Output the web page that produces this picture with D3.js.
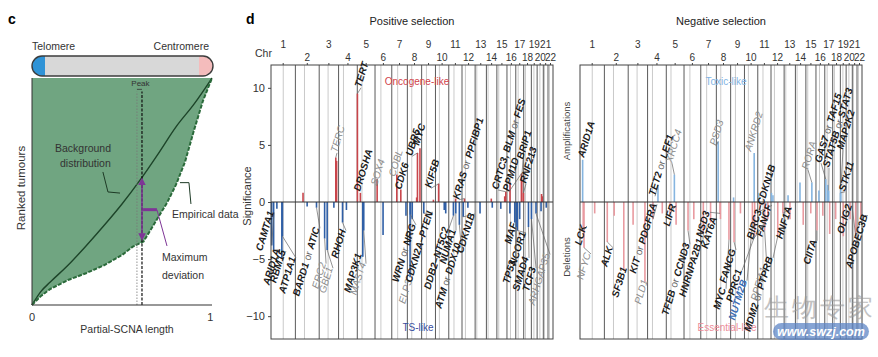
<!DOCTYPE html>
<html><head><meta charset="utf-8">
<script src="https://cdn.jsdelivr.net/npm/d3@7"></script>
<style>
body{margin:0;background:#fff}
svg{display:block}
text{font-family:"Liberation Sans",Arial,Helvetica,sans-serif}
</style>
</head><body>
<svg id="fig" width="878" height="357"></svg>
<script>
// ---------- data ----------
const chrNames = ["1","2","3","4","5","6","7","8","9","10","11","12","13","14","15","16","17","18","19","20","21","22"];
const chrLengths = [249,243,198,191,181,171,159,146,141,136,135,134,115,107,103,90,81,78,59,63,48,51];
const centromeres = [125,93,91,50,48,60,60,45,49,40,53,35,17,17,19,36,24,18,26,28,12,15];
const sigTicks = [-10,-5,0,5,10];

// panel c: ranked tumours vs partial-SCNA length
const bgT  = [0,0.05,0.1,0.2,0.3,0.4,0.5,0.6,0.7,0.8,0.9,1];
const bgR  = [0,0.06,0.1,0.175,0.26,0.35,0.445,0.55,0.665,0.785,0.885,1];
const empT = [0,0.05,0.1,0.2,0.3,0.4,0.5,0.56,0.62,0.7,0.75,0.8,0.85,0.9,0.95,1];
const empR = [0,0.04,0.07,0.11,0.14,0.175,0.22,0.257,0.28,0.385,0.45,0.53,0.63,0.77,0.9,1];
const peakT = [0.583,0.611];

// positive selection: [gene, chr, Mb, significance, labelGenomeMb, labelSig, style]
const oncoLabels = [
 ["TERT",5,1.3,9.5,919,10.0,"b"],
 ["TERC",3,169.5,3.9,674,4.3,"g"],
 ["DROSHA",5,31.5,0.8,909,0.9,"b"],
 ["SOX4",6,21.6,2.0,1082,1.4,"g"],
 ["COBL",7,51.1,2.4,1266,2.2,"g"],
 ["CDK6",7,92.3,1.1,1327,1.05,"b"],
 ["UBR5",8,103.3,4.3,1440,4.0,"b"],
 ["MYC",8,128.7,4.7,1511,4.9,"b"],
 ["KIF5B",10,32.3,1.6,1634,1.2,"b"],
 ["KRAS or PPFIBP1",12,25.4,0.3,1919,0.2,"b"],
 ["CRTC3, BLM or FES",15,91.1,0.9,2318,1.05,"b"],
 ["PPM1D",17,58.7,2.5,2430,0.9,"b"],
 ["BRIP1",17,59.8,2.0,2573,3.7,"b"],
 ["RNF213",17,78.3,0.8,2604,1.6,"b"]
];
const oncoBars = [[2,78,0.8],[3,178,3.6],[8,95,0.4],[16,31,1.7],[15,80,0.5],[20,45,0.7],[20,52,0.5],[11,70,0.3],[14,50,0.3],[9,120,0.2]];
const tsLabels = [
 ["CAMTA1",1,7,-3.8,31,-0.9,"b"],
 ["ARID1A",1,27,-4.2,92,-4.2,"b"],
 ["RBM15",1,110.9,-4.9,153,-4.3,"b"],
 ["ATP1A1",1,116.9,-3.0,255,-4.9,"b"],
 ["BARD1 or ATIC",2,215.6,-0.5,500,-2.3,"b"],
 ["ERC2",3,55.5,-3.2,562,-5.4,"g"],
 ["GBE1",3,81.5,-4.2,633,-5.8,"g"],
 ["RHOH",4,40.2,-1.8,766,-2.5,"b"],
 ["MAP3K1",5,56.1,-4.8,929,-4.6,"b"],
 ["MAST4",5,66,-2.5,970,-5.4,"g"],
 ["WRN or NRG",8,30.9,-1.1,1480,-2.0,"b"],
 ["ELP3",8,27.9,-6.6,1440,-6.9,"g"],
 ["CDKN2A–PTEN",9,21.9,-1.0,1654,-0.9,"b"],
 ["DDB2–NT5C2",11,47.2,-1.2,1817,-2.3,"b"],
 ["NUMA1",11,71.7,-1.0,1889,-2.5,"b"],
 ["ATM or DDX10",11,108,-2.0,1940,-3.7,"b"],
 ["CDKN1B",12,12.9,-1.3,2083,-1.05,"b"],
 ["MAF",16,79.6,-1.8,2512,-1.9,"b"],
 ["NCOR1",17,16,-2.5,2604,-2.7,"b"],
 ["TP53",17,7.5,-2.2,2501,-5.2,"b"],
 ["SMAD4",18,48.6,-2.2,2634,-4.9,"b"],
 ["TCF3",19,1.6,-1.5,2706,-5.8,"b"],
 ["ARHGAP35",19,47.4,-1.0,2849,-4.6,"g"]
];
const tsBars = [[1,60,-0.6],[2,120,-0.4],[3,150,-0.5],[4,80,-0.7],[6,82,-2.9],[7,145,-1.2],[8,50,-1.5],[10,89.6,-0.7],[10,104.8,-1.0],[12,60,-0.5],[13,50,-1.0],[14,60,-0.5],[15,40,-0.6],[16,30,-1.0],[17,40,-1.5],[20,40,-0.8],[21,30,-0.5]];

// negative selection
const toxicLabels = [
 ["ARID1A",1,27,3.7,41,3.85,"b"],
 ["TET2 or LEF1",4,106,1.5,766,0.5,"b"],
 ["XRCC4",5,82.4,2.4,939,3.4,"g"],
 ["PSD3",8,18.4,5.3,1389,4.9,"g"],
 ["ANKRD2",10,99.3,4.3,1746,4.4,"g"],
 ["RORA",15,61,1.7,2328,2.8,"g"],
 ["GAS7 or TAF15",17,9.8,2.0,2461,3.4,"b"],
 ["STAT5B or STAT3",17,40.4,1.0,2542,3.0,"b"],
 ["MAP2K2",19,4.1,1.2,2685,4.55,"b"],
 ["STK11",19,1.2,0.8,2706,0.9,"b"]
];
const toxicBars = [[11,10,0.8],[12,5,0.8],[12,20,0.6],[14,47,1.7],[16,30,1.0],[9,30,0.4],[13,40,0.6],[17,30,1.5]];
const essentialLabels = [
 ["LCK",1,32.7,-2.5,71,-2.1,"b"],
 ["NFYC",1,41,-4.0,112,-4.55,"g"],
 ["ALK",2,29.4,-3.5,337,-4.0,"b"],
 ["SF3B1",2,198,-6.0,480,-5.8,"b"],
 ["KIT or PDGFRA",4,55,-1.5,786,-0.2,"b"],
 ["PLD1",3,171,-7.0,694,-6.9,"g"],
 ["LIFR",5,38.5,-1.0,980,-0.3,"b"],
 ["TFEB or CCND3",6,41,-2.5,1123,-3.7,"b"],
 ["HNRNPA2B1",7,26,-2.8,1256,-3.3,"b"],
 ["NSD3",8,38,-1.0,1327,-0.9,"b"],
 ["KAT6A",8,41.8,-1.5,1399,-1.4,"b"],
 ["MYC",8,128.7,-3.3,1491,-7.6,"b"],
 ["FANCG",9,35,-3.5,1593,-4.2,"b"],
 ["PPRC1",10,104,-3.0,1654,-6.0,"b"],
 ["NUTM2B",10,81,-2.0,1705,-6.9,"u"],
 ["FANCF",11,22.6,-0.8,1960,-0.3,"b"],
 ["PPFIA1",11,70,-2.5,1909,-5.8,"g"],
 ["MDM2 or PTPRB",12,69,-3.0,1971,-4.9,"b"],
 ["HNF1A",12,121,-1.0,2164,-0.5,"b"],
 ["CIITA",16,11,-2.5,2420,-3.4,"b"],
 ["OLIG2",21,34.4,-3.0,2777,-0.3,"b"],
 ["APOBEC3B",22,39.4,-1.2,2940,-1.2,"b"],
 ["BIRC3–CDKN1B",11,102,-1.5,1766,-3.3,"b","start"]
];
const essentialBars = [[1,150,-1.0],[2,100,-1.2],[3,50,-2.0],[4,150,-1.0],[5,100,-2.0],[6,100,-1.5],[7,100,-1.8],[9,100,-1.0],[13,60,-1.5],[14,80,-2.0],[15,50,-1.0],[16,70,-1.2],[17,50,-2.8],[18,30,-1.5],[20,40,-1.5],[19,30,-3.0]];

// ---------- drawing ----------
const svg = d3.select("#fig");
const starts = chrLengths.map((d,i)=>d3.sum(chrLengths.slice(0,i)));
const total = d3.sum(chrLengths);
const gpos = (c,p)=>starts[c-1]+p;

// ===== panel c =====
const cx = d3.scaleLinear().domain([0,1]).range([32,212]);
const cy = d3.scaleLinear().domain([0,1]).range([305,78]);
const gc = svg.append("g");
gc.append("text").attr("x",8).attr("y",24).attr("font-size",14).attr("font-weight","bold").text("c");

const empPts = empT.map((t,i)=>[t,empR[i]]);
const areaPts = [[0,1],[1,1]].concat(empPts.slice().reverse());
const ln = d3.line().x(d=>cx(d[0])).y(d=>cy(d[1]));
gc.append("path").attr("d",ln(areaPts)+"Z").attr("fill","#70a581");
gc.append("path").attr("fill","none").attr("stroke","#1d4429").attr("stroke-width",1.4)
  .attr("d", d3.line().curve(d3.curveMonotoneX).x(d=>cx(d[0])).y(d=>cy(d[1]))(bgT.map((t,i)=>[t,bgR[i]])));
gc.append("path").attr("d",ln(empPts)).attr("fill","none").attr("stroke","#2a6a3a").attr("stroke-width",2).attr("stroke-dasharray","4,1.5");

// chromosome cartoon
const barY = 56, barH = 20;
gc.append("defs").html('<clipPath id="chrclip"><rect x="32" y="'+barY+'" width="181" height="'+barH+'" rx="10"/></clipPath>');
const cg = gc.append("g").attr("clip-path","url(#chrclip)");
cg.append("rect").attr("x",32).attr("y",barY).attr("width",181).attr("height",barH).attr("fill","#d8d8d8");
cg.append("rect").attr("x",32).attr("y",barY).attr("width",13).attr("height",barH).attr("fill","#2f93d6");
cg.append("rect").attr("x",199).attr("y",barY).attr("width",14).attr("height",barH).attr("fill","#f4bcbc");
gc.append("rect").attr("x",32).attr("y",barY).attr("width",181).attr("height",barH).attr("rx",10).attr("fill","none").attr("stroke","#3c3c3c").attr("stroke-width",1.4);
gc.append("text").attr("x",32).attr("y",50).attr("font-size",10.5).attr("fill","#333").text("Telomere");
gc.append("text").attr("x",209).attr("y",50).attr("text-anchor","end").attr("font-size",10.5).attr("fill","#333").text("Centromere");

// peak lines
gc.append("line").attr("x1",cx(peakT[0])).attr("x2",cx(peakT[0])).attr("y1",cy(0)).attr("y2",cy(0.94)).attr("stroke","#777").attr("stroke-width",0.8).attr("stroke-dasharray","1.5,1.5");
gc.append("line").attr("x1",cx(peakT[1])).attr("x2",cx(peakT[1])).attr("y1",cy(0)).attr("y2",cy(0.94)).attr("stroke","#111").attr("stroke-width",1.2).attr("stroke-dasharray","3,1.5");
gc.append("line").attr("x1",cx(peakT[0])).attr("x2",cx(peakT[1])).attr("y1",cy(0.95)).attr("y2",cy(0.95)).attr("stroke","#333").attr("stroke-width",0.8);
gc.append("text").attr("x",(cx(peakT[0])+cx(peakT[1]))/2+1).attr("y",86).attr("text-anchor","middle").attr("font-size",8).attr("fill","#333").text("Peak");

// maximum deviation
const purple = "#7e3596";
gc.append("defs").html('<marker id="ah" viewBox="0 0 10 10" refX="5" refY="5" markerWidth="5" markerHeight="5" orient="auto-start-reverse"><path d="M0,0L10,5L0,10z" fill="'+purple+'"/></marker>');
gc.append("line").attr("x1",cx(peakT[1])).attr("x2",cx(peakT[1])).attr("y1",cy(0.545)).attr("y2",cy(0.3)).attr("stroke",purple).attr("stroke-width",1.5).attr("marker-start","url(#ah)").attr("marker-end","url(#ah)");
gc.append("line").attr("x1",cx(0.617)).attr("x2",cx(0.694)).attr("y1",cy(0.42)).attr("y2",cy(0.42)).attr("stroke",purple).attr("stroke-width",3);
gc.append("path").attr("d",ln([[0.694,0.42],[0.75,0.26]])).attr("fill","none").attr("stroke",purple).attr("stroke-width",1);

// annotation leaders
gc.append("path").attr("d",ln([[0.394,0.586],[0.422,0.498],[0.489,0.493]])).attr("fill","none").attr("stroke","#1d3a25").attr("stroke-width",1);
gc.append("path").attr("d",ln([[0.822,0.539],[0.872,0.539],[0.883,0.445]])).attr("fill","none").attr("stroke","#1d3a25").attr("stroke-width",1);

const ann = (x,y,t,a)=>gc.append("text").attr("x",x).attr("y",y).attr("font-size",10.5).attr("fill","#333").attr("text-anchor",a||"start").text(t);
ann(55,152,"Background"); ann(60,167,"distribution");
ann(172,218,"Empirical data");
ann(162,261,"Maximum"); ann(162,279,"deviation");

// axes c
gc.append("line").attr("x1",cx(0)).attr("x2",cx(1)).attr("y1",cy(0)).attr("y2",cy(0)).attr("stroke","#333").attr("stroke-width",1.2);
gc.append("line").attr("x1",cx(0)).attr("x2",cx(0)).attr("y1",cy(0)).attr("y2",cy(1)).attr("stroke","#333").attr("stroke-width",1);
gc.append("text").attr("x",cx(0)).attr("y",321).attr("text-anchor","middle").attr("font-size",11).attr("fill","#333").text("0");
gc.append("text").attr("x",cx(0.99)).attr("y",321).attr("text-anchor","middle").attr("font-size",11).attr("fill","#333").text("1");
gc.append("text").attr("x",127).attr("y",333).attr("text-anchor","middle").attr("font-size",10.5).attr("fill","#333").text("Partial-SCNA length");
gc.append("text").attr("transform","translate(25,188) rotate(-90)").attr("text-anchor","middle").attr("font-size",11.5).attr("fill","#333").text("Ranked tumours");

// ===== panel d =====
const y = d3.scaleLinear().domain([-12,12]).range([339,65]);
svg.append("text").attr("x",246).attr("y",24).attr("font-size",14).attr("font-weight","bold").text("d");
svg.append("text").attr("x",255).attr("y",57).attr("font-size",10.5).attr("fill","#333").text("Chr");

function panel(x0, x1, title, upLabels, upBars, downLabels, downBars, upColor, downColor, upText, upTextColor, downText, downTextColor) {
  const x = d3.scaleLinear().domain([0,total]).range([x0,x1]);
  const g = svg.append("g");
  g.append("rect").attr("x",x0).attr("y",y(12)).attr("width",x1-x0).attr("height",y(-12)-y(12)).attr("fill","#fff");
  g.selectAll("line.cen").data(centromeres).join("line")
    .attr("x1",(d,i)=>x(starts[i]+d)).attr("x2",(d,i)=>x(starts[i]+d))
    .attr("y1",y(12)).attr("y2",y(-12)).attr("stroke","#c4c4c4").attr("stroke-width",0.9);
  g.selectAll("line.bnd").data(starts.slice(1)).join("line")
    .attr("x1",d=>x(d)).attr("x2",d=>x(d)).attr("y1",y(12)).attr("y2",y(-12))
    .attr("stroke","#5a5a5a").attr("stroke-width",1);
  chrNames.forEach((n,i)=>{
    const cxp = x(starts[i]+chrLengths[i]/2);
    g.append("text").attr("x",cxp).attr("y", i%2===0 ? 48 : 61).attr("text-anchor","middle").attr("font-size",10).attr("fill","#333").text(n);
    g.append("line").attr("x1",cxp).attr("x2",cxp).attr("y1",y(12)-2).attr("y2",y(12)).attr("stroke","#444");
  });
  g.append("text").attr("x",(x0+x1)/2).attr("y",25).attr("text-anchor","middle").attr("font-size",11).attr("fill","#222").text(title);
  const allUp = upBars.concat(upLabels.map(r=>[r[1],r[2],r[3]]));
  const allDown = downBars.concat(downLabels.map(r=>[r[1],r[2],r[3]]));
  g.selectAll("line.up").data(allUp).join("line")
    .attr("x1",d=>x(gpos(d[0],d[1]))).attr("x2",d=>x(gpos(d[0],d[1])))
    .attr("y1",y(0)).attr("y2",d=>y(d[2])).attr("stroke",upColor).attr("stroke-width",1.6);
  g.selectAll("line.dn").data(allDown).join("line")
    .attr("x1",d=>x(gpos(d[0],d[1]))).attr("x2",d=>x(gpos(d[0],d[1])))
    .attr("y1",y(0)).attr("y2",d=>y(d[2])).attr("stroke",downColor).attr("stroke-width",1.6);
  g.append("line").attr("x1",x0).attr("x2",x1).attr("y1",y(0)).attr("y2",y(0)).attr("stroke","#333").attr("stroke-width",1.2);
  g.append("rect").attr("x",x0).attr("y",y(12)).attr("width",x1-x0).attr("height",y(-12)-y(12)).attr("fill","none").attr("stroke","#444").attr("stroke-width",1);
  g.append("text").attr("x",(x0+x1)/2+5).attr("y",85).attr("text-anchor","middle").attr("font-size",10).attr("fill",upTextColor).text(upText);
  g.append("text").attr("x",(x0+x1)/2+6).attr("y",331).attr("text-anchor","middle").attr("font-size",10).attr("fill",downTextColor).text(downText);
  drawLabels(g, x, upLabels, "start");
  drawLabels(g, x, downLabels, "end");
  return x;
}

function drawLabels(g, x, rows, anchor) {
  rows.forEach(r=>{
    const [txt,c,p,v,lg,ls,st,anc] = r;
    const bx = x(gpos(c,p)), by = y(v), lx = x(lg), ly = y(ls);
    if (Math.hypot(bx-lx,by-ly) > 4) {
      g.append("line").attr("x1",bx).attr("y1",by).attr("x2",lx).attr("y2",ly).attr("stroke","#666").attr("stroke-width",0.7);
    }
    const fill = st==="g" ? "#8c8c8c" : (st==="u" ? "#3b6db3" : "#1b1b1b");
    const t = g.append("text").attr("transform",`translate(${lx},${ly}) rotate(-73)`)
      .attr("text-anchor", anc || anchor).attr("font-size",10).attr("font-style","italic")
      .attr("font-weight", st==="g" ? "normal" : "bold").attr("fill",fill);
    const parts = txt.split(" or ");
    parts.forEach((pt,i)=>{
      if (i>0) t.append("tspan").attr("font-weight","normal").attr("fill","#666").attr("font-style","normal").text(" or ");
      t.append("tspan").text(pt);
    });
  });
}

panel(271,553,"Positive selection", oncoLabels, oncoBars, tsLabels, tsBars, "#c9454b", "#2f5fa6",
      "Oncogene-like", "#d1434b", "TS-like", "#3a4fa0");
panel(580,862,"Negative selection", toxicLabels, toxicBars, essentialLabels, essentialBars, "#86b5e0", "#e99aa0",
      "Toxic-like", "#82b3e3", "Essential-like", "#ec8d98");

const ax = svg.append("g").attr("transform","translate(271,0)")
  .call(d3.axisLeft(y).tickValues(sigTicks).tickSize(3).tickFormat(d=> d<0 ? "\u2212"+(-d) : d));
ax.select(".domain").remove();
ax.selectAll("text").attr("font-size",11).attr("fill","#333").attr("font-family","Liberation Sans, Arial, sans-serif");
ax.selectAll("line").attr("stroke","#444");
svg.append("text").attr("transform","translate(251,196) rotate(-90)").attr("text-anchor","middle").attr("font-size",11).attr("fill","#333").text("Significance");
svg.append("text").attr("transform","translate(570,131) rotate(-90)").attr("text-anchor","middle").attr("font-size",9.5).attr("fill","#444").text("Amplifications");
svg.append("text").attr("transform","translate(570,257) rotate(-90)").attr("text-anchor","middle").attr("font-size",9.5).attr("fill","#444").text("Deletions");

// watermark
const wm = svg.append("g");
wm.append("text").attr("x",820).attr("y",316).attr("text-anchor","middle").attr("font-size",25).attr("letter-spacing",3)
  .attr("font-family","Noto Sans CJK SC").attr("fill","#9a9a9a").attr("opacity",0.6).text("生物专家");
wm.append("rect").attr("x",773).attr("y",323).attr("width",96).attr("height",17).attr("rx",8.5).attr("fill","#5d86c6").attr("opacity",0.75);
wm.append("text").attr("x",821).attr("y",336).attr("text-anchor","middle").attr("font-size",12.5).attr("font-weight","bold").attr("font-style","italic").attr("fill","#fff").text("www.swzj.com");
</script>
</body></html>
